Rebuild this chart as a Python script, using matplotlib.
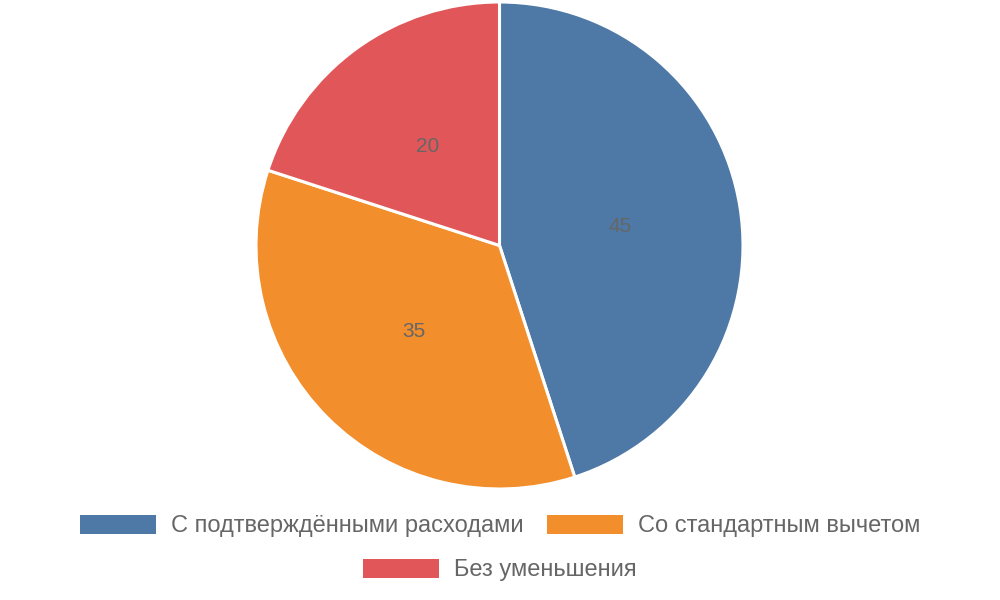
import numpy as np
import matplotlib.pyplot as plt
from matplotlib.patches import Patch

categories = ["С подтверждёнными расходами", "Со стандартным вычетом", "Без уменьшения"]
values = [45, 35, 20]
colors = ["#4e79a7", "#f28e2b", "#e15759"]

plt.rcParams['font.family'] = ['Liberation Sans', 'DejaVu Sans']
text_color = "#666666"

fig = plt.figure(figsize=(10, 6), dpi=100)
ax = fig.add_axes([0.256, 0.185, 0.487, 0.8117])

total = sum(values)
wedges, texts, autotexts = ax.pie(
    values, colors=colors, startangle=90, counterclock=False,
    autopct=lambda p: f"{p * total / 100:.0f}", pctdistance=0.5,
    wedgeprops=dict(edgecolor="white", linewidth=2.2),
    textprops=dict(color=text_color, fontsize=15),
)
ax.set_xlim(-1, 1)
ax.set_ylim(-1, 1)
ax.set_aspect("equal")
ax.axis("off")

fs = 17
px = fs * 100 / 72
handles = [Patch(facecolor=c, edgecolor="none") for c in colors]
leg_kw = dict(frameon=False, fontsize=fs, handlelength=76 / px, handleheight=20 / px,
              handletextpad=15 / px, columnspacing=23 / px, labelcolor=text_color,
              borderpad=0, borderaxespad=0)
fig.legend(handles[:2], categories[:2], ncol=2, loc="center",
           bbox_to_anchor=(0.5, 1 - 526 / 600), **leg_kw)
fig.legend(handles[2:], categories[2:], ncol=1, loc="center",
           bbox_to_anchor=(0.5, 1 - 570 / 600), **leg_kw)

plt.savefig("out.png", dpi=100)
